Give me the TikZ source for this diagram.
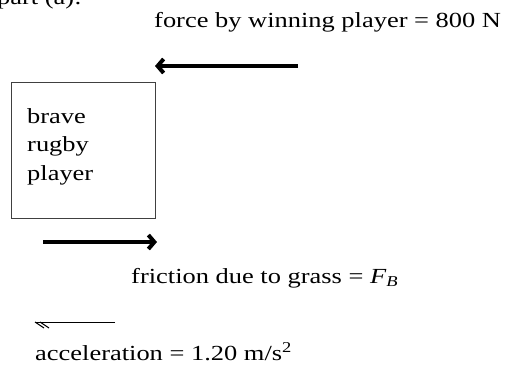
\documentclass[tikz,border=0pt]{standalone}
\usepackage{fontspec}
\setmainfont{Liberation Serif}[FakeStretch=1.23]
\usetikzlibrary{arrows.meta, positioning}

\begin{document}
\begin{tikzpicture}[x=1pt, y=-1pt, font=\fontsize{21.5}{28.5}\selectfont]
\tikzstyle{lbl}=[anchor=base west, inner sep=0pt]
\tikzstyle{force}=[line width=4pt, -{Straight Barb[length=6pt,width=14pt]}]
\useasboundingbox (0,0) rectangle (506,365);

\node[lbl]    (part)    at (-3,4)    {part (a):};
\node[lbl]    (win)     at (154,27)  {force by winning player = 800 N};
\node[draw=black!75, line width=1pt, minimum width=144pt, minimum height=136pt] (P) at (83,150) {};
\node[lbl, align=left] (txt) at (27,180) {brave\\rugby\\player};
\node[lbl]    (fric)    at (131,283) {friction due to grass = \textit{F}\textsubscript{\textit{B}}};
\node[lbl]    (acc)     at (35,360)  {acceleration = 1.20 m/s\textsuperscript{2}};

\coordinate (w0) at (298,66);
\coordinate (w1) at (155,66);
\coordinate (f0) at (43,242);
\coordinate (f1) at (157,242);
\coordinate (a0) at (115,322);
\coordinate (a1) at (35,322);

\draw[force] (w0) -- (w1);
\draw[force] (f0) -- (f1);

% acceleration, double barb
\draw[line width=0.9pt] (a0) -- (a1);
\draw[line width=1pt] (a1) -- ++(9,6) ([xshift=5pt]a1) -- ++(9,6);
\end{tikzpicture}
\end{document}
